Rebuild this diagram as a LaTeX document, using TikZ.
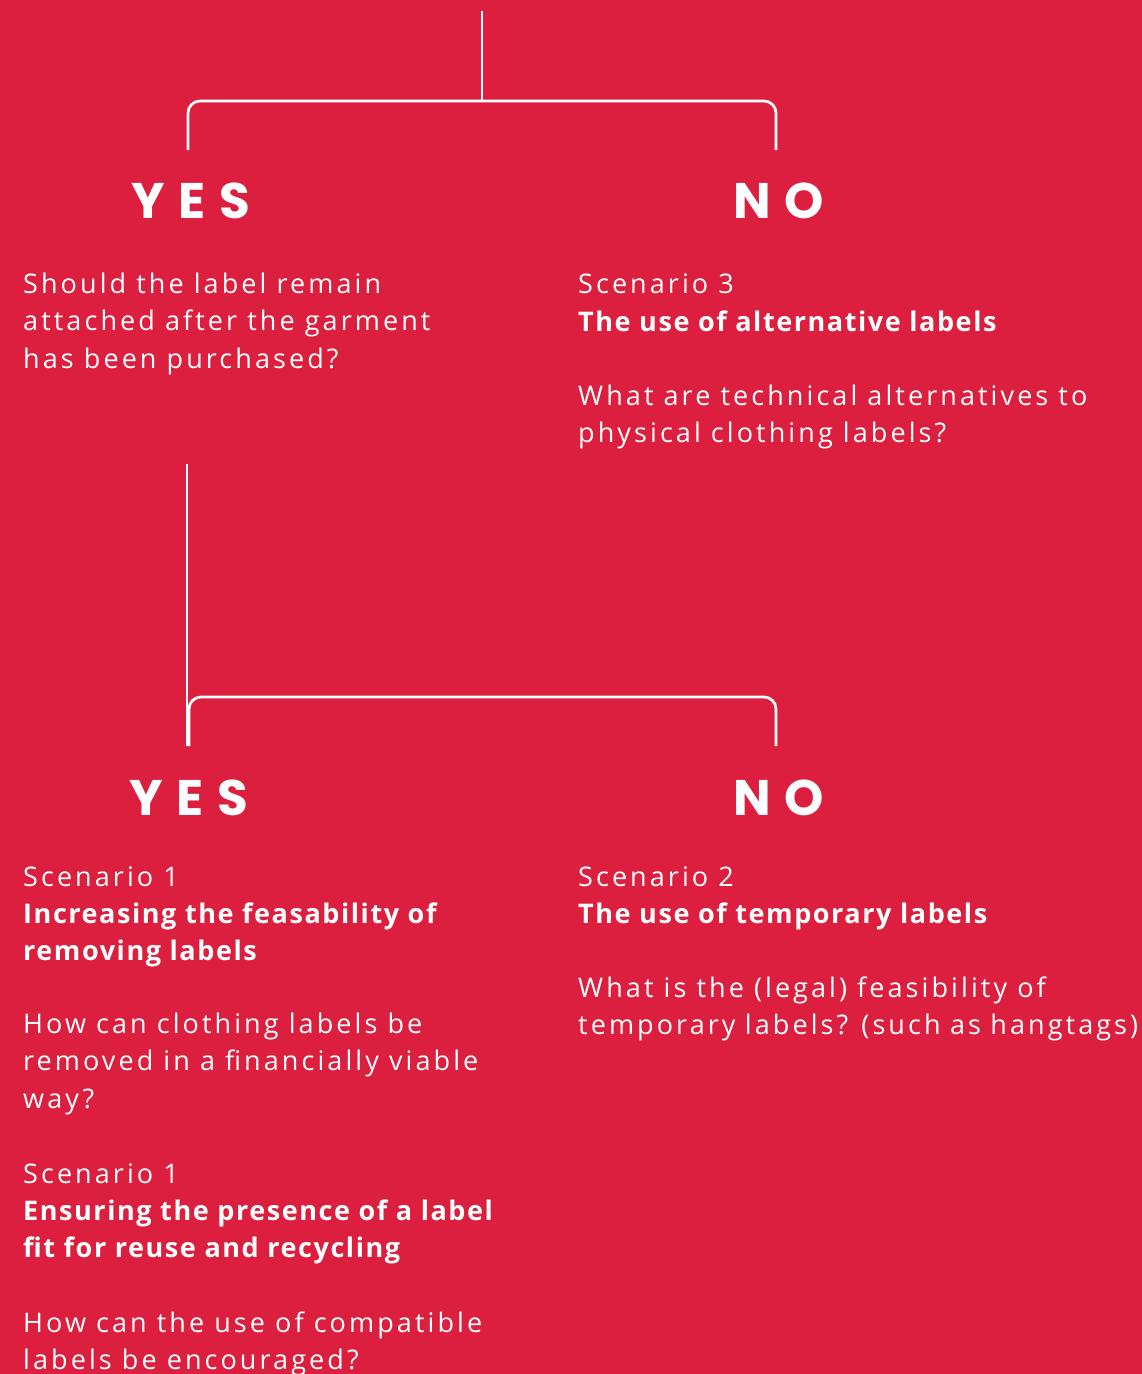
\documentclass[tikz,border=0pt]{standalone}
\usepackage{fontspec}
\newfontfamily\bodyf{Open Sans}[LetterSpace=11.4]
\newfontfamily\boldf{Open Sans}[LetterSpace=5.8]
\newfontfamily\popf{Poppins}[LetterSpace=27]
\definecolor{bgred}{RGB}{220,31,62}
\newcommand{\textlines}[1]{\parbox[t]{560pt}{\raggedright #1}}
\tikzset{
  txt/.style={anchor=base west, inner sep=0pt, text=white,
    font=\bodyf\fontsize{27}{37.5}\selectfont},
  bld/.style={anchor=base west, inner sep=0pt, text=white,
    font=\boldf\bfseries\fontsize{27}{37.5}\selectfont},
  yn/.style={anchor=base, inner sep=0pt, text=white,
    font=\popf\bfseries\fontsize{50}{50}\selectfont},
  conn/.style={draw=white, line width=2.7pt, rounded corners=12pt}
}
\begin{document}
\begin{tikzpicture}[x=1pt,y=-1pt]
\fill[bgred] (0,0) rectangle (1142,1374);
\useasboundingbox (0,0) rectangle (1142,1374);
% connectors top
\coordinate (t0) at (482,11);
\coordinate (t1) at (482,101);
\coordinate (tl) at (188,150);
\coordinate (tr) at (776,150);
\draw[conn] (t0) -- (t1);
\draw[conn] (tl) -- (188,101) -- (776,101) -- (tr);
% labels top
\node[yn] (yes1) at (191,218) {YES};
\node[yn] (no1) at (779,218) {NO};
\node[txt] (q1) at (23,293) {\textlines{Should the label remain\\attached after the garment\\has been purchased?}};
\node[txt] (s3) at (578,293) {Scenario 3};
\node[bld] (s3t) at (578,331) {The use of alternative labels};
\node[txt] (s3q) at (578,405) {\textlines{What are technical alternatives to\\physical clothing labels?}};
% second bracket
\coordinate (m0) at (187,464);
\coordinate (m1) at (187,746);
\coordinate (ml) at (189,746);
\coordinate (mr) at (776,746);
\draw[conn] (m0) -- (m1);
\draw[conn] (ml) -- (189,697) -- (776,697) -- (mr);
\node[yn] (yes2) at (189,815) {YES};
\node[yn] (no2) at (779,815) {NO};
% bottom left
\node[txt] (s1a) at (23,886) {Scenario 1};
\node[bld] (s1at) at (23,923) {\textlines{Increasing the feasability of\\removing labels}};
\node[txt] (s1aq) at (23,1033) {\textlines{How can clothing labels be\\removed in a financially viable\\way?}};
\node[txt] (s1b) at (23,1183) {Scenario 1};
\node[bld] (s1bt) at (23,1220) {\textlines{Ensuring the presence of a label\\fit for reuse and recycling}};
\node[txt] (s1bq) at (23,1332) {\textlines{How can the use of compatible\\labels be encouraged?}};
% bottom right
\node[txt] (s2) at (578,886) {Scenario 2};
\node[bld] (s2t) at (578,923) {The use of temporary labels};
\node[txt] (s2q) at (578,997) {\textlines{What is the (legal) feasibility of\\temporary labels? (such as hangtags)}};
\end{tikzpicture}
\end{document}
